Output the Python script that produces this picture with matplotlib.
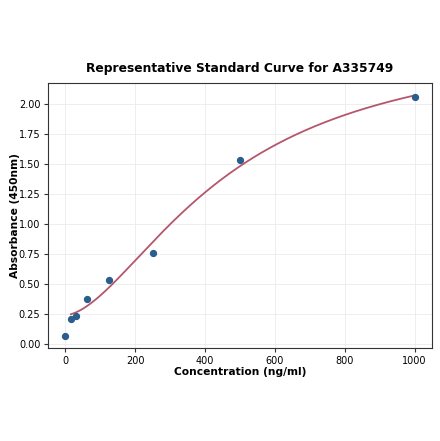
import numpy as np
import matplotlib
matplotlib.use("Agg")
import matplotlib.pyplot as plt

# standard points
concentration = [0, 15.6, 31.25, 62.5, 125, 250, 500, 1000]
absorbance = [0.07, 0.21, 0.24, 0.38, 0.54, 0.76, 1.54, 2.06]

title = "Representative Standard Curve for A335749"
x_label = "Concentration (ng/ml)"
y_label = "Absorbance (450nm)"
x_ticks = [0, 200, 400, 600, 800, 1000]
y_ticks = [0.00, 0.25, 0.50, 0.75, 1.00, 1.25, 1.50, 1.75, 2.00]


def four_pl(x, a, b, c, d):
    return d + (a - d) / (1.0 + (x / c) ** b)


def fit_four_pl(x, y, p0, n_iter=200):
    # small Levenberg-Marquardt, no scipy needed
    p = np.array(p0, dtype=float)
    lam = 1e-2
    for _ in range(n_iter):
        r = y - four_pl(x, *p)
        J = np.empty((len(x), len(p)))
        for k in range(len(p)):
            dp = np.zeros_like(p)
            dp[k] = 1e-6 * max(abs(p[k]), 1.0)
            J[:, k] = (four_pl(x, *(p + dp)) - four_pl(x, *p)) / dp[k]
        A = J.T @ J
        g = J.T @ r
        step = np.linalg.solve(A + lam * np.diag(np.diag(A)), g)
        new = p + step
        if new[2] > 0 and np.sum((y - four_pl(x, *new)) ** 2) < np.sum(r ** 2):
            p = new
            lam *= 0.5
        else:
            lam *= 4
    return p


xs = np.array(concentration[1:], dtype=float)
ys = np.array(absorbance[1:], dtype=float)
params = fit_four_pl(xs, ys, [0.22, 1.8, 420.0, 2.4])

x_fit = np.linspace(xs.min(), xs.max(), 300)
y_fit = four_pl(x_fit, *params)

fig = plt.figure(figsize=(4.40, 4.41), dpi=100)
ax = fig.add_axes([0.109, 0.211, 0.873, 0.601])

ax.grid(True, color="#ebebeb", linewidth=0.6)
ax.set_axisbelow(True)
ax.plot(x_fit, y_fit, color="#b5576b", linewidth=1.3)
ax.scatter(concentration, absorbance, color="#2b5e8c", s=18, zorder=3)

ax.set_xlim(-50, 1050)
ax.set_ylim(-0.03, 2.18)
ax.set_xticks(x_ticks)
ax.set_yticks(y_ticks)
ax.set_yticklabels(["%.2f" % v for v in y_ticks])
ax.tick_params(labelsize=7, length=3, color="#333333", pad=2.5)
for s in ax.spines.values():
    s.set_color("#333333")

ax.set_title(title, fontsize=8.8, fontweight="bold", pad=8)
ax.set_xlabel(x_label, fontsize=7.7, fontweight="bold", labelpad=1)
ax.set_ylabel(y_label, fontsize=7.7, fontweight="bold", labelpad=-1)

fig.savefig("out.png", dpi=100)
